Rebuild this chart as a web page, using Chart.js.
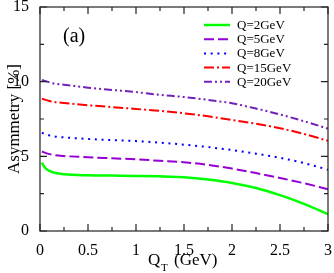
<!DOCTYPE html>
<html>
<head>
<meta charset="utf-8">
<script src="https://cdn.jsdelivr.net/npm/chart.js@4/dist/chart.umd.min.js"></script>
<style>
    html, body { margin: 0; padding: 0; background: #fff; }
    canvas { display: block; }
</style>
</head>
<body>
<canvas id="asym-chart" width="334" height="273"></canvas>
<script>
// values
const qt = [0.02, 0.05, 0.1, 0.15, 0.25, 0.5, 0.75, 1.0, 1.25, 1.5, 1.75, 2.0, 2.25, 2.5, 2.75, 3.0];
const q2 = [4.58, 4.25, 4.02, 3.9, 3.8, 3.73, 3.71, 3.69, 3.66, 3.6, 3.45, 3.22, 2.88, 2.4, 1.82, 1.13];
const q5 = [5.32, 5.25, 5.15, 5.08, 5.02, 4.94, 4.87, 4.8, 4.7, 4.6, 4.43, 4.18, 3.88, 3.55, 3.2, 2.8];
const q8 = [6.58, 6.5, 6.4, 6.33, 6.27, 6.16, 6.09, 6.02, 5.92, 5.78, 5.62, 5.42, 5.18, 4.9, 4.55, 4.1];
const q15 = [8.86, 8.8, 8.7, 8.64, 8.57, 8.42, 8.3, 8.17, 8.05, 7.88, 7.68, 7.43, 7.18, 6.88, 6.5, 6.04];
const q20 = [10.12, 10.05, 9.95, 9.87, 9.8, 9.6, 9.45, 9.3, 9.12, 8.97, 8.78, 8.55, 8.2, 7.8, 7.35, 6.85];
const seriesLabels = ["Q=2GeV", "Q=5GeV", "Q=8GeV", "Q=15GeV", "Q=20GeV"];
const xTicks = [0, 0.5, 1, 1.5, 2, 2.5, 3];
const yTicks = [0, 5, 10, 15];

const SERIF = "'Liberation Serif', 'DejaVu Serif', serif";

function pts(ys) {
    return qt.map((x, i) => ({ x: x, y: ys[i] }));
}

function line(label, ys, color, dash, width) {
    return {
        label: label,
        data: pts(ys),
        borderColor: color,
        backgroundColor: color,
        borderWidth: width || 2,
        borderDash: dash,
        pointRadius: 0,
        cubicInterpolationMode: "monotone",
        fill: false,
    };
}

// inward ticks on all four sides, frame, legend and axis titles
const decorations = {
    id: "decorations",
    afterDraw(chart) {
        const ctx = chart.ctx;
        const a = chart.chartArea;
        const xs = chart.scales.x;
        const ys = chart.scales.y;
        ctx.save();
        ctx.strokeStyle = "#222";
        ctx.lineWidth = 1.2;
        ctx.setLineDash([]);
        ctx.strokeRect(a.left, a.top, a.right - a.left, a.bottom - a.top);

        ctx.beginPath();
        for (let v = 0; v <= 3.0001; v += 0.25) {
            const px = xs.getPixelForValue(v);
            const len = Math.abs(v / 0.5 - Math.round(v / 0.5)) < 1e-6 ? 7 : 4;
            ctx.moveTo(px, a.bottom); ctx.lineTo(px, a.bottom - len);
            ctx.moveTo(px, a.top); ctx.lineTo(px, a.top + len);
        }
        for (let v = 0; v <= 15.0001; v += 2.5) {
            const py = ys.getPixelForValue(v);
            const len = v % 5 === 0 ? 7 : 4;
            ctx.moveTo(a.left, py); ctx.lineTo(a.left + len, py);
            ctx.moveTo(a.right, py); ctx.lineTo(a.right - len, py);
        }
        ctx.stroke();

        // legend
        ctx.font = "13px " + SERIF;
        ctx.textBaseline = "middle";
        ctx.fillStyle = "#000";
        chart.data.datasets.forEach((ds, i) => {
            const y = 25 + i * 14.2;
            ctx.strokeStyle = ds.borderColor;
            ctx.lineWidth = ds.borderWidth;
            ctx.setLineDash(ds.borderDash || []);
            ctx.beginPath();
            ctx.moveTo(204, y);
            ctx.lineTo(230, y);
            ctx.stroke();
            ctx.fillText(ds.label, 237, y + 0.5);
        });
        ctx.setLineDash([]);

        // panel label
        ctx.font = "20px " + SERIF;
        ctx.textBaseline = "alphabetic";
        ctx.fillText("(a)", 63, 42);

        // x title with subscript
        ctx.font = "17px " + SERIF;
        ctx.fillText("Q", 148, 265);
        ctx.font = "11px " + SERIF;
        ctx.fillText("T", 161, 271);
        ctx.font = "17px " + SERIF;
        ctx.fillText("(GeV)", 174, 265);

        // y title
        ctx.translate(19, 119);
        ctx.rotate(-Math.PI / 2);
        ctx.textAlign = "center";
        ctx.fillText("Asymmetry [%]", 0, 0);
        ctx.restore();
    },
};

function initChart() {
    const ctx = document.getElementById("asym-chart").getContext("2d");
    return new Chart(ctx, {
        type: "line",
        data: {
            datasets: [
                line(seriesLabels[0], q2, "rgb(0,255,0)", [], 2.5),
                line(seriesLabels[1], q5, "rgb(148,0,211)", [10, 4]),
                line(seriesLabels[2], q8, "rgb(0,0,255)", [2, 4.7]),
                line(seriesLabels[3], q15, "rgb(255,0,0)", [10, 3, 2, 3]),
                line(seriesLabels[4], q20, "rgb(114,33,188)", [8, 3, 2, 3, 2, 3]),
            ],
        },
        options: {
            responsive: false,
            animation: false,
            layout: { padding: { top: 7, right: 6, left: 0, bottom: 0 } },
            plugins: {
                legend: { display: false },
                tooltip: { enabled: false },
            },
            scales: {
                x: {
                    type: "linear",
                    min: 0,
                    max: 3,
                    grid: { display: false },
                    border: { display: false },
                    afterBuildTicks: (s) => { s.ticks = xTicks.map((v) => ({ value: v })); },
                    afterFit: (s) => {
                        s.height = 42;
                        s.paddingLeft = 0;
                        s.paddingRight = 0;
                    },
                    ticks: {
                        padding: 2,
                        color: "#000",
                        maxRotation: 0,
                        font: { family: SERIF, size: 16 },
                        callback: (v) => String(v),
                    },
                },
                y: {
                    min: 0,
                    max: 15,
                    grid: { display: false },
                    border: { display: false },
                    afterBuildTicks: (s) => { s.ticks = yTicks.map((v) => ({ value: v })); },
                    afterFit: (s) => {
                        s.width = 40;
                        s.paddingTop = 0;
                        s.paddingBottom = 0;
                    },
                    ticks: {
                        padding: 3,
                        color: "#000",
                        font: { family: SERIF, size: 16 },
                        callback: (v) => String(v),
                    },
                },
            },
        },
        plugins: [decorations],
    });
}

const chart = initChart();
window.chart = chart;
</script>
</body>
</html>
